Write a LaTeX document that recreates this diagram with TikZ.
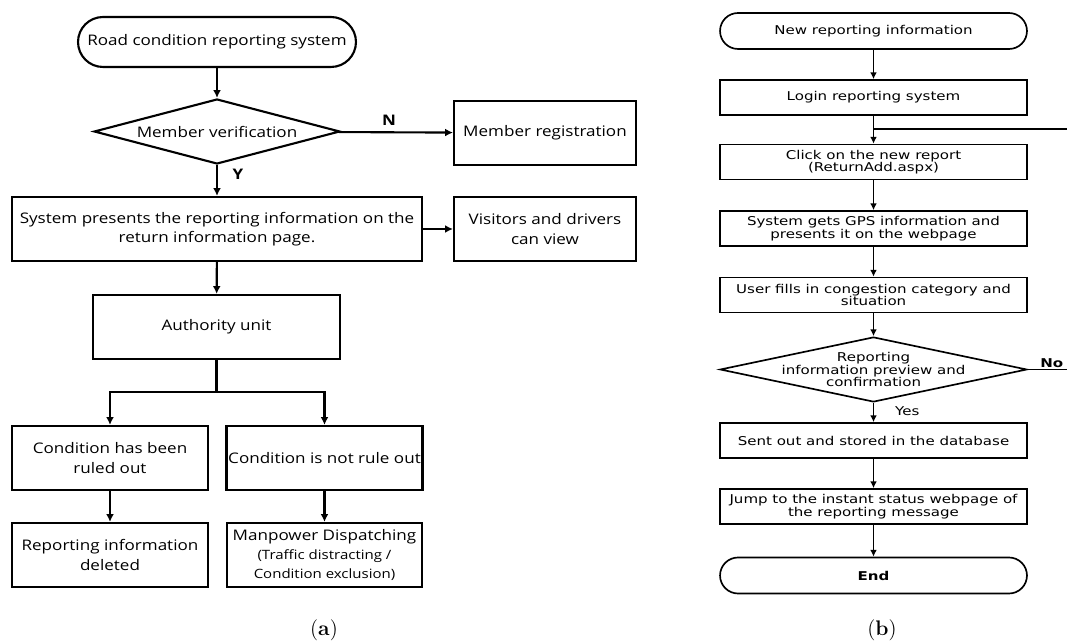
\documentclass[tikz,border=0pt]{standalone}
\usepackage{fontspec}
\newfontfamily\lfont[FakeStretch=1.17]{Open Sans}
\newfontfamily\rfont[FakeStretch=1.24]{DejaVu Sans}
\newcommand\ldetail{\fontsize{7.3}{9.5}\selectfont}
\usetikzlibrary{shapes.geometric}
\usetikzlibrary{arrows.meta}

\begin{document}
\begin{tikzpicture}[x=0.02cm, y=-0.02cm,
  ltext/.style={font=\lfont\fontsize{8.3}{11}\selectfont, align=center},
  rtext/.style={font=\rfont\fontsize{6.9}{7.1}\selectfont, align=center},
  lline/.style={line width=1.2pt},
  rline/.style={line width=0.95pt},
  lbox/.style={rectangle, draw, lline, ltext, minimum height=1.28cm, inner sep=1pt},
  rbox/.style={rectangle, draw, rline, rtext, minimum width=6.14cm, minimum height=0.7cm, inner sep=1pt},
  lterm/.style={lbox, minimum height=1cm, rounded corners=0.5cm},
  rterm/.style={rbox, minimum height=0.72cm, rounded corners=0.36cm},
  decide/.style={diamond, draw, inner sep=0pt},
  larrow/.style={lline, -{Latex[length=4.5pt,width=4.5pt]}},
  rarrow/.style={rline, -{Latex[length=3.8pt,width=3.8pt]}}]

\useasboundingbox (0,0) rectangle (1067,644);

% (a)
\node[lterm, minimum width=5.56cm] (start) at (217,42) {Road condition reporting system};
\node[decide, lline, minimum width=4.92cm, minimum height=1.3cm,
  label={[ltext]center:Member verification}] (verify) at (217,131.5) {};
\node[lbox, minimum width=3.64cm] (reg) at (545,133) {Member registration};
\node[lbox, minimum width=8.2cm] (present) at (217,229) {System presents the reporting information on the\\return information page.};
\node[lbox, minimum width=3.64cm] (visit) at (545,229) {Visitors and drivers\\can view};
\node[lbox, minimum width=4.94cm] (auth) at (216.5,327) {Authority unit};
\node[lbox, minimum width=3.92cm] (ruled) at (110,458) {Condition has been\\ruled out};
\node[lbox, minimum width=3.9cm] (notruled) at (324.5,458) {Condition is not rule out};
\node[lbox, minimum width=3.92cm] (deleted) at (110,555) {Reporting information\\deleted};
\node[lbox, minimum width=3.9cm] (dispatch) at (324.5,555) {Manpower Dispatching\\\ldetail(Traffic distracting /\\\ldetail Condition exclusion)};

\coordinate (split) at (216.5,392);

\draw[larrow] (start) -- (verify);
\draw[larrow] (verify) -- node[ltext, above, pos=0.44] (n) {\textbf{N}} (reg);
\draw[larrow] (verify) -- node[ltext, right=5pt, pos=0.3] (y) {\textbf{Y}} (present);
\draw[larrow] (present) -- (visit);
\draw[larrow] (present) -- (auth);
\draw[lline] (auth) -- (split);
\draw[larrow] (split) -| (ruled.north);
\draw[larrow] (split) -| (notruled.north);
\draw[larrow] (ruled) -- (deleted);
\draw[larrow] (notruled) -- (dispatch);

% (b)
\node[rterm] (new) at (873.5,31) {New reporting information};
\node[rbox] (login) at (873.5,97.5) {Login reporting system};
\node[rbox] (click) at (873.5,162) {Click on the new report\\(ReturnAdd.aspx)};
\node[rbox] (gps) at (873.5,228.5) {System gets GPS information and\\presents it on the webpage};
\node[rbox] (fill) at (873.5,295) {User fills in congestion category and\\situation};
\node[decide, rline, minimum width=6.14cm, minimum height=1.3cm,
  label={[rtext]center:Reporting\\information preview and\\confirmation}] (preview) at (873.5,369.5) {};
\node[rbox] (sent) at (873.5,440.5) {Sent out and stored in the database};
\node[rbox] (jump) at (873.5,506.5) {Jump to the instant status webpage of\\the reporting message};
\node[rterm] (finish) at (873.5,575.5) {\textbf{End}};

\coordinate (loop) at (873.5,129);

\draw[rarrow] (new) -- (login);
\draw[rarrow] (login) -- (click);
\draw[rarrow] (click) -- (gps);
\draw[rarrow] (gps) -- (fill);
\draw[rarrow] (fill) -- (preview);
\draw[rarrow] (preview) -- node[rtext, right=8.5pt, pos=0.45] (yes) {Yes} (sent);
\draw[rarrow] (sent) -- (jump);
\draw[rarrow] (jump) -- (finish);
\draw[rline] (preview.east) -- node[rtext, above, inner sep=0.5pt] (no) {\textbf{No}} ++(48,0) |- (loop);

\node[font=\fontsize{12}{14}\selectfont] (capa) at (324,630) {(\textbf{a})};
\node[font=\fontsize{12}{14}\selectfont] (capb) at (882,630) {(\textbf{b})};
\end{tikzpicture}
\end{document}
